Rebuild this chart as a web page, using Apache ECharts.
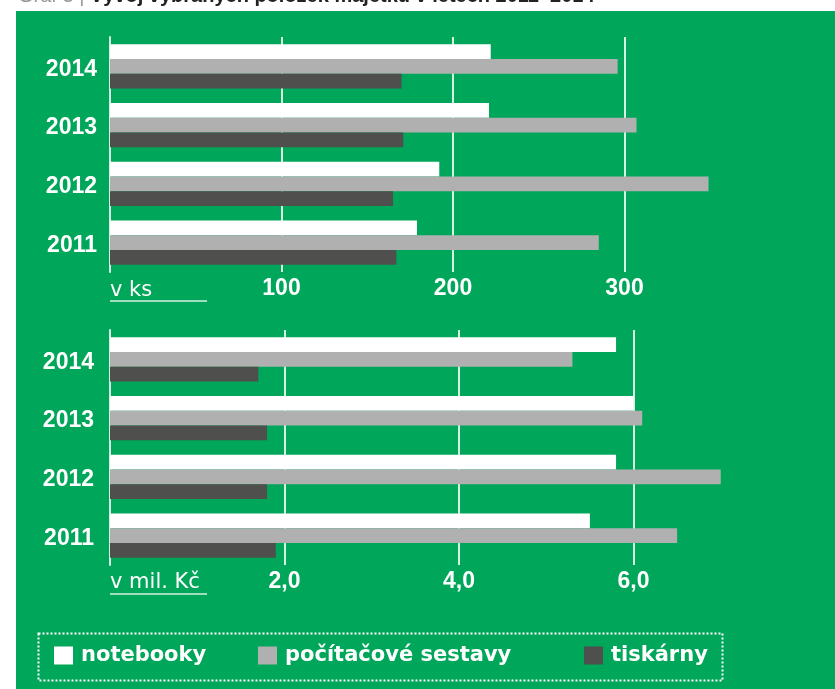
<!DOCTYPE html>
<html>
<head>
<meta charset="utf-8">
<title>Vývoj vybraných položek majetku</title>
<script src="https://cdn.jsdelivr.net/npm/echarts@6/dist/echarts.min.js"></script>
<style>
html,body{margin:0;padding:0;background:#fff;}
#chart{width:835px;height:689px;}
</style>
</head>
<body>
<div id="chart"></div>
<script>
var years = ['2014', '2013', '2012', '2011'];
var seriesNames = ['notebooky', 'počítačové sestavy', 'tiskárny'];

// v ks
var ksNotebooky = [222, 221, 192, 179];
var ksSestavy = [296, 307, 349, 285];
var ksTiskarny = [170, 171, 165, 167];

// v mil. Kč
var kcNotebooky = [5.8, 6.0, 5.8, 5.5];
var kcSestavy = [5.3, 6.1, 7.0, 6.5];
var kcTiskarny = [1.7, 1.8, 1.8, 1.9];

var colors = ['#ffffff', '#afb0af', '#4f4f4e'];
var green = '#00a659';
var pale = '#d6f1e2';

var myChart = echarts.init(document.getElementById('chart'));

function makeBar(name, data, idx, color){
	return {
		name: name,
		type: 'bar',
		xAxisIndex: idx,
		yAxisIndex: idx,
		data: data,
		barWidth: '25%',
		barGap: '0%',
		itemStyle: {color: color},
		silent: true
	};
}

function makeLegend(name, left){
	return {
		data: [name],
		left: left,
		top: 645,
		padding: 0,
		icon: 'rect',
		itemWidth: 19,
		itemHeight: 18,
		selectedMode: false,
		textStyle: {color: '#fff', fontWeight: 'bold', fontSize: 21, fontFamily: 'DejaVu Sans', padding: [0, 0, 0, 3]}
	};
}

var yLabel = {
	formatter: function(v){ return '{y|' + v + '}'; },
	rich: {y: {color: '#fff', fontWeight: 'bold', fontSize: 23, fontFamily: 'Liberation Sans', padding: [6, 0, 0, 0]}}
};
var xLabel = {color: '#fff', fontWeight: 'bold', fontSize: 23, fontFamily: 'Liberation Sans'};

var option = {
	animation: false,
	backgroundColor: '#fff',
	grid: [
		{left: 110, top: 37, width: 686, height: 235},
		{left: 110, top: 330, width: 698, height: 235}
	],
	xAxis: [
		{
			gridIndex: 0, type: 'value', min: 0, max: 400, interval: 100,
			axisLine: {show: false}, axisTick: {show: false},
			splitLine: {show: true, showMinLine: false, showMaxLine: false, lineStyle: {color: pale, width: 2}},
			axisLabel: Object.assign({margin: 5, formatter: function(v){ return (v === 0 || v === 400) ? '' : String(v); }}, xLabel)
		},
		{
			gridIndex: 1, type: 'value', min: 0, max: 8, interval: 2,
			axisLine: {show: false}, axisTick: {show: false},
			splitLine: {show: true, showMinLine: false, showMaxLine: false, lineStyle: {color: pale, width: 2}},
			axisLabel: Object.assign({margin: 5, formatter: function(v){ return (v === 0 || v === 8) ? '' : v.toFixed(1).replace('.', ','); }}, xLabel)
		}
	],
	yAxis: [
		{
			gridIndex: 0, type: 'category', data: years, inverse: true,
			axisLine: {show: true, lineStyle: {color: pale, width: 2}},
			axisTick: {show: false},
			axisLabel: Object.assign({margin: 13}, yLabel)
		},
		{
			gridIndex: 1, type: 'category', data: years, inverse: true,
			axisLine: {show: true, lineStyle: {color: pale, width: 2}},
			axisTick: {show: false},
			axisLabel: Object.assign({margin: 16}, yLabel)
		}
	],
	legend: [
		makeLegend(seriesNames[0], 54),
		makeLegend(seriesNames[1], 258),
		makeLegend(seriesNames[2], 584)
	],
	graphic: [
		{type: 'rect', z: -10, silent: true, shape: {x: 16, y: 11, width: 819, height: 678}, style: {fill: green}},
		{type: 'text', x: 18, y: 6, silent: true, style: {
			text: '{g|Graf 3 | }{b|Vývoj vybraných položek majetku v letech 2011–2014}',
			verticalAlign: 'bottom',
			rich: {
				g: {fill: '#9a9a9a', fontSize: 20, fontFamily: 'Liberation Sans'},
				b: {fill: '#222', fontSize: 20, fontWeight: 'bold', fontFamily: 'Liberation Sans'}
			}
		}},
		{type: 'text', x: 110, y: 291, silent: true, style: {text: 'v ks', fill: '#fff', fontSize: 21, fontFamily: 'DejaVu Sans', verticalAlign: 'middle'}},
		{type: 'line', silent: true, shape: {x1: 110, y1: 301, x2: 207, y2: 301}, style: {stroke: pale, lineWidth: 1.5}},
		{type: 'text', x: 110, y: 583, silent: true, style: {text: 'v mil. Kč', fill: '#fff', fontSize: 21, fontFamily: 'DejaVu Sans', verticalAlign: 'middle'}},
		{type: 'line', silent: true, shape: {x1: 110, y1: 594, x2: 207, y2: 594}, style: {stroke: pale, lineWidth: 1.5}},
		{type: 'rect', silent: true, shape: {x: 38.5, y: 633.5, width: 684, height: 47}, style: {fill: 'none', stroke: '#fff', lineWidth: 2, lineDash: [2, 2]}}
	],
	series: [
		makeBar(seriesNames[0], ksNotebooky, 0, colors[0]),
		makeBar(seriesNames[1], ksSestavy, 0, colors[1]),
		makeBar(seriesNames[2], ksTiskarny, 0, colors[2]),
		makeBar(seriesNames[0], kcNotebooky, 1, colors[0]),
		makeBar(seriesNames[1], kcSestavy, 1, colors[1]),
		makeBar(seriesNames[2], kcTiskarny, 1, colors[2])
	]
};

myChart.setOption(option);
</script>
</body>
</html>
